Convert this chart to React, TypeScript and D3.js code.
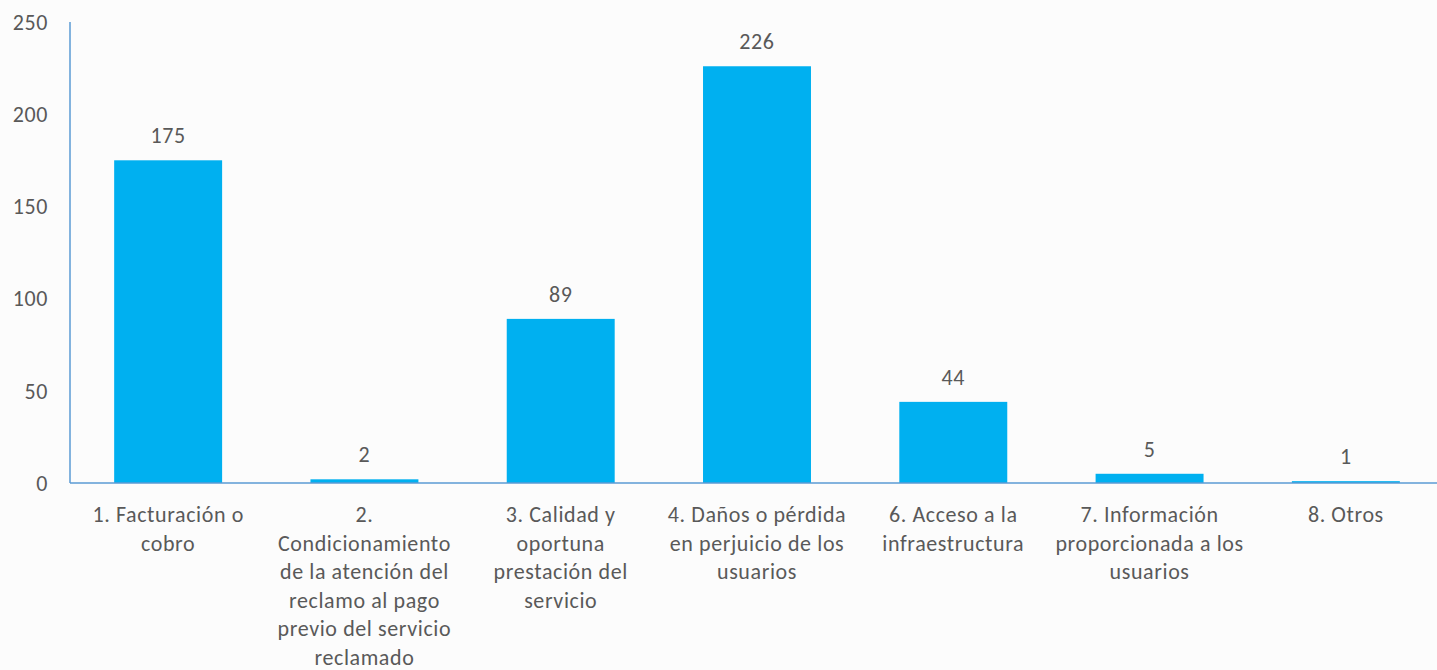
import React from "react";
import * as d3 from "d3";

const categories = [
  "1. Facturación o cobro",
  "2. Condicionamiento de la atención del reclamo al pago previo del servicio reclamado",
  "3. Calidad y oportuna prestación del servicio",
  "4. Daños o pérdida en perjuicio de los usuarios",
  "6. Acceso a la infraestructura",
  "7. Información proporcionada a los usuarios",
  "8. Otros",
];
const labelLines = [
  ["1. Facturación o", "cobro"],
  ["2.", "Condicionamiento", "de la atención del", "reclamo al pago", "previo del servicio", "reclamado"],
  ["3. Calidad y", "oportuna", "prestación del", "servicio"],
  ["4. Daños o pérdida", "en perjuicio de los", "usuarios"],
  ["6. Acceso a la", "infraestructura"],
  ["7. Información", "proporcionada a los", "usuarios"],
  ["8. Otros"],
];
const values = [175, 2, 89, 226, 44, 5, 1];
const yTicks = [0, 50, 100, 150, 200, 250];

const W = 1437;
const H = 670;
const FONT = "Carlito, Calibri, Lato, sans-serif";
const TEXT = "#595959";
const FS = 22;
const LS = 0.6;

export default function App() {
  const x = d3
    .scaleBand<string>()
    .domain(categories)
    .range([70, 1444])
    .paddingInner(0.45)
    .paddingOuter(0.225);
  const y = d3.scaleLinear().domain([0, 250]).range([483, 22]);

  return (
    <svg
      width={W}
      height={H}
      style={{ position: "absolute", left: 0, top: 0, background: "#fcfcfc" }}
      fontFamily={FONT}
    >
      <rect x={0} y={0} width={W} height={H} fill="#fcfcfc" />
      {categories.map((c, i) => (
        <rect
          key={c}
          x={x(c)}
          y={y(values[i])}
          width={x.bandwidth()}
          height={y(0) - y(values[i])}
          fill="#00b0f0"
        />
      ))}
      <line x1={70} x2={W} y1={y(0)} y2={y(0)} stroke="#5b9bd5" strokeWidth={1.5} />
      <line x1={70} x2={70} y1={y(250)} y2={y(0)} stroke="#5b9bd5" strokeWidth={1.5} />
      {yTicks.map((t) => (
        <text
          key={t}
          x={48}
          y={y(t)}
          dy="0.35em"
          textAnchor="end"
          fontSize={FS}
          letterSpacing={LS}
          fill={TEXT}
        >
          {t}
        </text>
      ))}
      {categories.map((c, i) => (
        <text
          key={"v" + c}
          x={(x(c) as number) + x.bandwidth() / 2}
          y={y(values[i]) - 17}
          textAnchor="middle"
          fontSize={FS}
          letterSpacing={LS}
          fill={TEXT}
        >
          {values[i]}
        </text>
      ))}
      {categories.map((c, i) => (
        <text
          key={"l" + c}
          textAnchor="middle"
          fontSize={FS}
          letterSpacing={LS}
          fill={TEXT}
        >
          {labelLines[i].map((ln, j) => (
            <tspan key={j} x={(x(c) as number) + x.bandwidth() / 2} y={522 + j * 28.6}>
              {ln}
            </tspan>
          ))}
        </text>
      ))}
    </svg>
  );
}
